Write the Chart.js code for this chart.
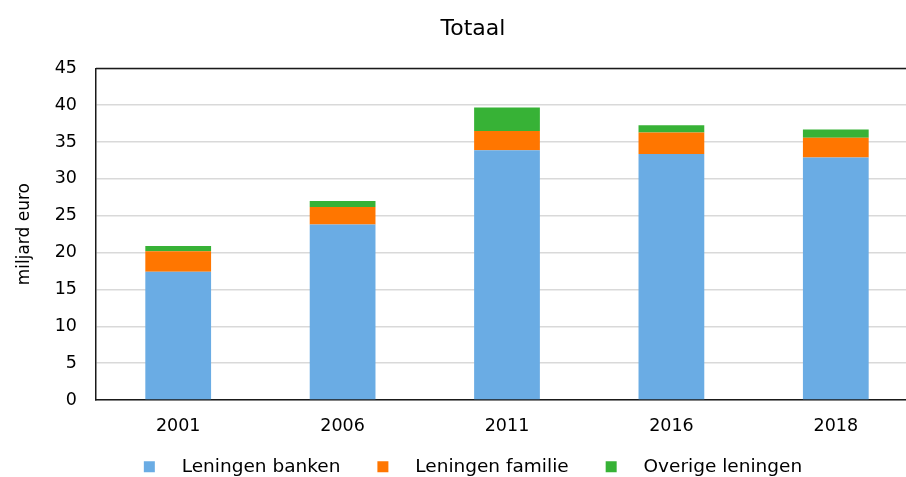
<!DOCTYPE html>
<html>
<head>
<meta charset="utf-8">
<script src="https://cdn.jsdelivr.net/npm/chart.js@4/dist/chart.umd.min.js"></script>
<style>
  html, body { margin: 0; padding: 0; overflow: hidden; background: #fff; }
  #chart { display: block; }
</style>
</head>
<body>
<canvas id="chart" width="946" height="486" style="width:946px;height:486px"></canvas>
<script>
const years = ['2001', '2006', '2011', '2016', '2018'];
const leningenBanken = [17.4, 23.8, 33.9, 33.4, 32.9];
const leningenFamilie = [2.8, 2.4, 2.6, 2.9, 2.7];
const overigeLeningen = [0.7, 0.8, 3.2, 1.0, 1.1];
const seriesNames = ['Leningen banken', 'Leningen familie', 'Overige leningen'];
const yTicks = [0, 5, 10, 15, 20, 25, 30, 35, 40, 45];

const FONT = '"DejaVu Sans", Verdana, sans-serif';

// top edge of the plot area is drawn black, like the axes
const plotFrame = {
    id: 'plotFrame',
    afterDraw(chart) {
        const { ctx, chartArea } = chart;
        ctx.save();
        ctx.strokeStyle = '#1a1a1a';
        ctx.lineWidth = 1.5;
        ctx.beginPath();
        ctx.moveTo(chartArea.left, chartArea.top);
        ctx.lineTo(chartArea.right, chartArea.top);
        ctx.stroke();
        ctx.restore();
    }
};

const colors = ['#6aace4', '#ff7600', '#37b236'];
const values = [leningenBanken, leningenFamilie, overigeLeningen];

new Chart(document.getElementById('chart'), {
    type: 'bar',
    data: {
        labels: years,
        datasets: seriesNames.map((name, i) => ({
            label: name,
            data: values[i],
            backgroundColor: colors[i],
            borderWidth: 0,
            barPercentage: 0.4,
            categoryPercentage: 1
        }))
    },
    options: {
        responsive: false,
        animation: false,
        devicePixelRatio: 1,
        layout: { padding: 0 },
        plugins: {
            title: {
                display: true,
                text: 'Totaal',
                color: '#000',
                font: { family: FONT, size: 22, weight: 'normal' },
                padding: { top: 16, bottom: 26 }
            },
            legend: {
                position: 'bottom',
                labels: {
                    color: '#000',
                    font: { family: FONT, size: 18.5 },
                    boxWidth: 11,
                    boxHeight: 11,
                    padding: 13.5,
                    generateLabels(chart) {
                        const n = chart.data.datasets.length;
                        // spaces widen the gap between swatch and text, and between items
                        return chart.data.datasets.map((ds, i) => ({
                            text: '   ' + ds.label + (i < n - 1 ? '    ' : ''),
                            fillStyle: ds.backgroundColor,
                            strokeStyle: ds.backgroundColor,
                            lineWidth: 0,
                            datasetIndex: i
                        }));
                    }
                }
            },
            tooltip: { enabled: false }
        },
        scales: {
            x: {
                stacked: true,
                grid: { display: false, drawTicks: false },
                border: { display: true, color: '#1a1a1a', width: 1.5 },
                ticks: { color: '#000', font: { family: FONT, size: 17.5 }, padding: 16 },
                afterFit(scale) { scale.height = 44; }
            },
            y: {
                stacked: true,
                min: 0,
                max: 45,
                afterBuildTicks(scale) { scale.ticks = yTicks.map(v => ({ value: v })); },
                grid: { color: '#d9d9d9', lineWidth: 1.5, drawTicks: false },
                border: { display: true, color: '#1a1a1a', width: 1.5 },
                ticks: { color: '#000', font: { family: FONT, size: 17.5 }, padding: 19 },
                title: {
                    display: true,
                    text: 'miljard euro',
                    color: '#000',
                    font: { family: FONT, size: 17 },
                    padding: { top: 14, bottom: 0 }
                },
                afterFit(scale) { scale.width = 96; }
            },
            y2: {
                position: 'right',
                display: true,
                grid: { display: false },
                border: { display: false },
                ticks: { display: false },
                afterFit(scale) { scale.width = 28; }
            }
        }
    },
    plugins: [plotFrame]
});
</script>
</body>
</html>
